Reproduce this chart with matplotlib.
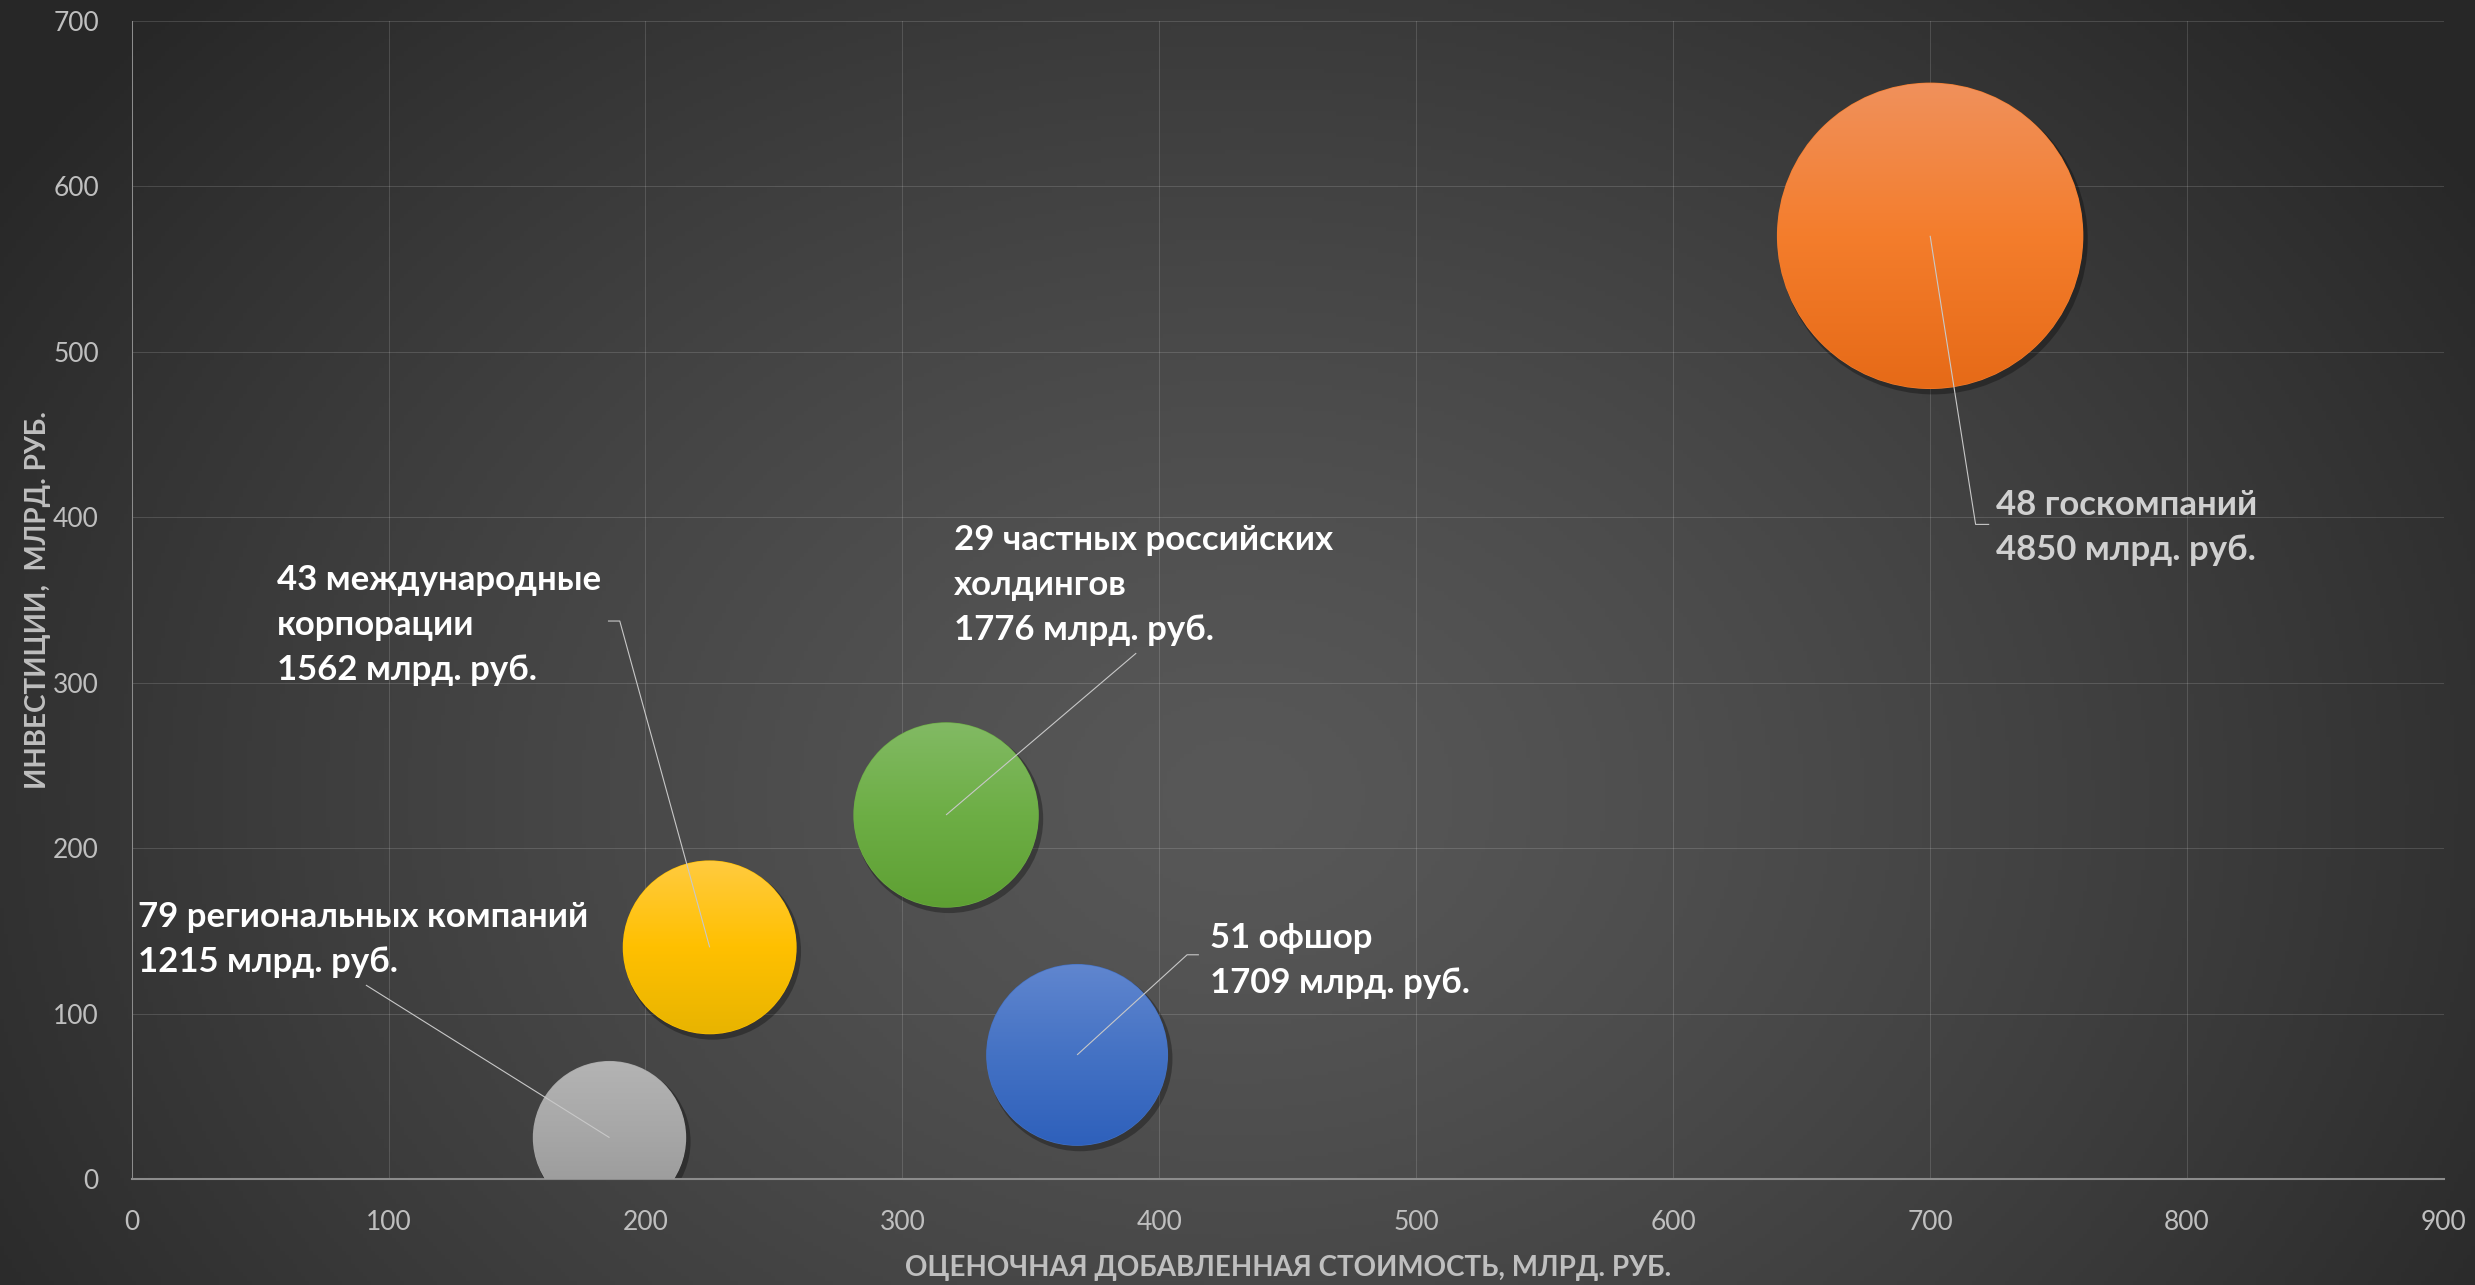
import numpy as np
import matplotlib.pyplot as plt
from matplotlib.patches import Circle
from matplotlib.transforms import ScaledTranslation, offset_copy
from matplotlib.colors import LinearSegmentedColormap

plt.rcParams['font.family'] = ['Lato', 'Open Sans', 'DejaVu Sans']

# data
counts = [79, 43, 29, 51, 48]
groups = ['региональных компаний', 'международные\nкорпорации',
          'частных российских\nхолдингов', 'офшор', 'госкомпаний']
added_value = [186, 225, 317, 368, 700]   # x, млрд. руб.
investments = [25, 140, 220, 75, 570]     # y, млрд. руб.
assets = [1215, 1562, 1776, 1709, 4850]   # bubble size, млрд. руб.

x_ticks = [0, 100, 200, 300, 400, 500, 600, 700, 800, 900]
y_ticks = [0, 100, 200, 300, 400, 500, 600, 700]

# style
bubble_cols = [('#B4B4B4', '#A6A6A6', '#969696'),
               ('#FFCB40', '#FFC000', '#E8B400'),
               ('#82BA64', '#6DAE45', '#5EA033'),
               ('#6086CF', '#4472C4', '#2E60BB'),
               ('#F0915C', '#F47D2C', '#E66A17')]
label_cols = ['white', 'white', 'white', 'white', '#D0D0D0']
# label layout (left x / first baseline, leader knee, short tick end)
label_pos = [(2.4, 152.4), (56.5, 355.9), (320.0, 380.1), (419.8, 139.6), (725.6, 401.4)]
knees = [(91.2, 117.2), (190.0, 337.2), (391.0, 317.8), (410.8, 135.5), (717.7, 395.6)]
tick_ends = [None, 185.4, None, 415.4, 723.0]

DPI = 100
W, H = 2475, 1285
PX_PER_SQRT = 4.40
LINE_PT = 32.4

fig = plt.figure(figsize=(W / DPI, H / DPI), dpi=DPI)

# radial dark background
gy, gx = np.mgrid[0:1:300j, 0:1:600j]
d = np.sqrt(((gx - 0.5) / 0.6) ** 2 + ((gy - 0.62) / 0.9) ** 2)
t = np.clip(d, 0, 1)[..., None] ** 1.3
c0 = np.array([0x58, 0x58, 0x58]) / 255
c1 = np.array([0x27, 0x27, 0x27]) / 255
bg = fig.add_axes([0, 0, 1, 1], zorder=-10)
bg.imshow(c0 + (c1 - c0) * t, extent=[0, 1, 0, 1], aspect='auto', origin='upper')
bg.axis('off')

ax = fig.add_axes([131.6 / W, 1 - 1179 / H, (2444 - 131.6) / W, (1179 - 20.7) / H])
ax.set_facecolor('none')
ax.set_autoscale_on(False)
ax.set_xlim(0, 900)
ax.set_ylim(0, 700)

diam_px = PX_PER_SQRT * np.sqrt(assets)
s = (diam_px * 72 / DPI) ** 2

shadow_tr = offset_copy(ax.transData, fig=fig, x=3, y=-4, units='dots')
ax.scatter(added_value, investments, s=(diam_px * 72 / DPI + 2) ** 2, color='black',
           alpha=0.3, edgecolors='none', transform=shadow_tr, zorder=2)
ax.scatter(added_value, investments, s=s, c=[c[1] for c in bubble_cols],
           edgecolors='none', zorder=3)

# vertical gradient fill on each bubble
grad = np.linspace(0, 1, 256)[:, None]
for xv, yv, dp, cols in zip(added_value, investments, diam_px, bubble_cols):
    r = dp / 2 / DPI
    tr = fig.dpi_scale_trans + ScaledTranslation(xv, yv, ax.transData)
    circ = Circle((0, 0), r - 0.6 / DPI, transform=tr)
    cmap = LinearSegmentedColormap.from_list('g', list(cols))
    im = ax.imshow(grad, cmap=cmap, extent=(-r, r, -r, r), transform=tr,
                   aspect='auto', origin='upper', zorder=4, interpolation='bilinear')
    im.set_clip_path(circ)

ax.set_xlim(0, 900)
ax.set_ylim(0, 700)

# leaders and labels
for i in range(len(counts)):
    kx, ky = knees[i]
    xs, ys = [added_value[i], kx], [investments[i], ky]
    if tick_ends[i] is not None:
        xs.append(tick_ends[i])
        ys.append(ky)
    ax.plot(xs, ys, color='#C8C8C8', lw=0.8, zorder=5, solid_capstyle='butt')
    text = f"{counts[i]} {groups[i]}\n{assets[i]} млрд. руб."
    for j, line in enumerate(text.split('\n')):
        ax.annotate(line, xy=label_pos[i], xycoords='data', xytext=(0, -j * LINE_PT),
                    textcoords='offset points', ha='left', va='baseline',
                    fontsize=25, fontweight='bold', color=label_cols[i],
                    zorder=6, annotation_clip=False)

ax.set_xticks(x_ticks)
ax.set_yticks(y_ticks)
ax.grid(True, color='white', alpha=0.14, lw=0.75)
ax.set_axisbelow(True)
ax.tick_params(length=0, labelsize=19, labelcolor='#BFBFBF')
ax.tick_params(axis='x', pad=22)
ax.tick_params(axis='y', pad=23.5)
for side in ['top', 'right']:
    ax.spines[side].set_visible(False)
ax.spines['left'].set_color('#8C8C8C')
ax.spines['left'].set_linewidth(0.75)
ax.spines['bottom'].set_color('#8C8C8C')
ax.spines['bottom'].set_linewidth(1.5)

ax.set_xlabel('ОЦЕНОЧНАЯ ДОБАВЛЕННАЯ СТОИМОСТЬ, МЛРД. РУБ.', fontsize=20,
              fontweight='bold', color='#BFBFBF')
ax.xaxis.set_label_coords(0.5, -0.0656)
ax.set_ylabel('ИНВЕСТИЦИИ,  МЛРД. РУБ.', fontsize=20, fontweight='bold', color='#BFBFBF')
ax.yaxis.set_label_coords(-0.035, 0.5)

fig.savefig('out.png', dpi=DPI)
